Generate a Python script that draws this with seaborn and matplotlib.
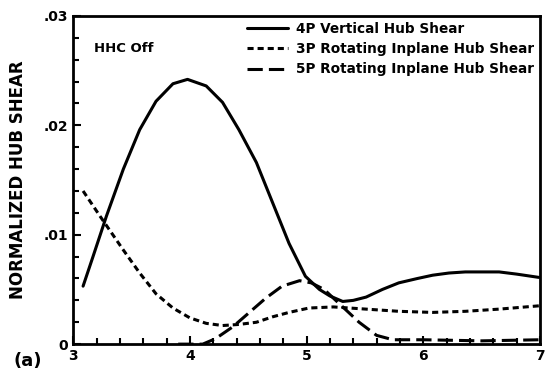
import numpy as np
import pandas as pd
import seaborn as sns
import matplotlib.pyplot as plt
from matplotlib.ticker import MultipleLocator, FuncFormatter

# readings from the plot
x_4p = [3.085, 3.17, 3.285, 3.43, 3.57, 3.71, 3.855, 3.98, 4.14, 4.28, 4.42, 4.57, 4.71, 4.85, 4.99,
        5.11, 5.2, 5.31, 5.4, 5.51, 5.65, 5.79, 5.95, 6.08, 6.22, 6.36, 6.5, 6.65, 6.8, 6.99]
y_4p = [0.0053, 0.0080, 0.0117, 0.0160, 0.0196, 0.0222, 0.0238, 0.0242, 0.0236, 0.0221, 0.0196, 0.0166,
        0.0129, 0.0092, 0.0062, 0.0050, 0.0044, 0.0039, 0.0040, 0.0043, 0.0050, 0.0056, 0.0060, 0.0063,
        0.0065, 0.0066, 0.0066, 0.0066, 0.0064, 0.0061]

x_3p = [3.085, 3.23, 3.43, 3.57, 3.71, 3.855, 4.0, 4.14, 4.28, 4.42, 4.57, 4.71, 4.85, 5.02,
        5.23, 5.51, 5.79, 6.08, 6.36, 6.65, 6.99]
y_3p = [0.0140, 0.0117, 0.0086, 0.0065, 0.0046, 0.0033, 0.0024, 0.0019, 0.0017, 0.0018, 0.0020,
        0.0025, 0.0029, 0.0033, 0.0034, 0.0032, 0.0030, 0.0029, 0.0030, 0.0032, 0.0035]

x_5p = [3.9, 4.11, 4.22, 4.37, 4.51, 4.65, 4.79, 4.94, 5.04, 5.15, 5.31, 5.45, 5.6, 5.74, 6.0, 6.5, 7.0]
y_5p = [0.0000, 0.0000, 0.0005, 0.0016, 0.0029, 0.0042, 0.0053, 0.0058, 0.0056, 0.0050, 0.0034,
        0.0020, 0.0008, 0.0004, 0.0004, 0.0003, 0.0004]

labels = ["4P Vertical Hub Shear", "3P Rotating Inplane Hub Shear", "5P Rotating Inplane Hub Shear"]

sns.set_style("ticks")
plt.rcParams['font.family'] = ['DejaVu Sans']
plt.rcParams['font.weight'] = 'bold'
plt.rcParams['text.color'] = 'black'
plt.rcParams['axes.labelcolor'] = 'black'

fig = plt.figure(figsize=(5.46, 3.79), dpi=100)
ax = fig.add_axes([0.134, 0.092, 0.855, 0.866])

df4 = pd.DataFrame({"x": x_4p, "y": y_4p})
df3 = pd.DataFrame({"x": x_3p, "y": y_3p})
df5 = pd.DataFrame({"x": x_5p, "y": y_5p})

sns.lineplot(data=df4, x="x", y="y", ax=ax, color="black", lw=2.2, label=labels[0])
sns.lineplot(data=df3, x="x", y="y", ax=ax, color="black", lw=2.2,
             linestyle=(0, (2.0, 1.3)), label=labels[1])
sns.lineplot(data=df5, x="x", y="y", ax=ax, color="black", lw=2.2,
             linestyle=(0, (5.0, 2.0)), label=labels[2])

ax.set_xlim(3, 7)
ax.set_ylim(0, 0.03)
ax.xaxis.set_major_locator(MultipleLocator(1))
ax.xaxis.set_minor_locator(MultipleLocator(0.2))
ax.yaxis.set_major_locator(MultipleLocator(0.01))
ax.yaxis.set_minor_locator(MultipleLocator(0.002))
ax.yaxis.set_major_formatter(FuncFormatter(lambda v, p: "0" if abs(v) < 1e-9 else f"{v:.2f}".lstrip("0")))
ax.tick_params(which="both", direction="in", labelsize=10, width=1.5, colors="black")
ax.tick_params(which="major", length=6)
ax.tick_params(which="minor", length=4)
for s in ax.spines.values():
    s.set_linewidth(2)
    s.set_color("black")

ax.set_xlabel("")
ax.set_ylabel("NORMALIZED HUB SHEAR", fontsize=12, fontweight="bold", labelpad=12)

ax.text(0.045, 0.89, "HHC Off", transform=ax.transAxes, fontsize=9.5, fontweight="bold")
fig.text(0.025, 0.035, "(a)", fontsize=13, fontweight="bold")

leg = ax.legend(loc="upper right", frameon=False, fontsize=9.8, handlelength=3.0,
                handletextpad=0.6, labelspacing=0.45, borderaxespad=0.05)
for t in leg.get_texts():
    t.set_fontweight("bold")

fig.savefig("out.png", dpi=100)
